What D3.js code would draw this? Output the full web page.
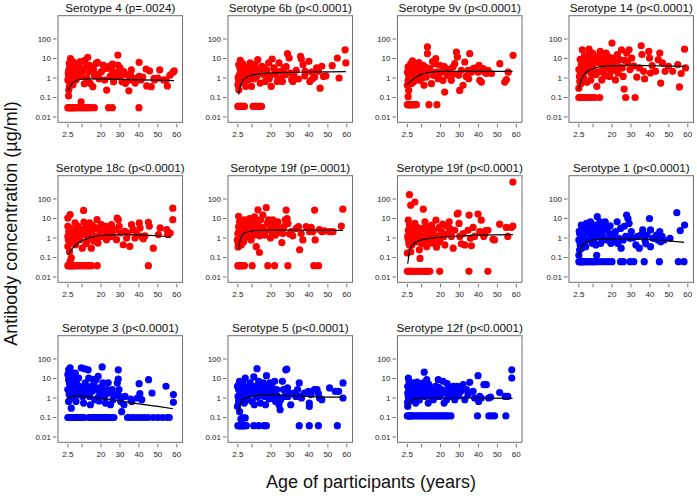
<!DOCTYPE html>
<html><head><meta charset="utf-8">
<script src="https://cdn.jsdelivr.net/npm/d3@7"></script>
<style>body{margin:0;background:#fff}svg{display:block}text{font-family:"Liberation Sans",Arial,sans-serif}</style>
</head><body>
<svg id="c" width="697" height="496"></svg>
<script>
const titles = ["Serotype 4 (p=.0024)","Serotype 6b (p<0.0001)","Serotype 9v (p<0.0001)","Serotype 14 (p<0.0001)",
"Serotype 18c (p<0.0001)","Serotype 19f (p=.0001)","Serotype 19f (p<0.0001)","Serotype 1 (p<0.0001)",
"Serotype 3 (p<0.0001)","Serotype 5 (p<0.0001)","Serotype 12f (p<0.0001)"];
const seriesColor = ["red","red","red","red","red","red","red","blue","blue","blue","blue"];
const xTicks = [2.5,10,20,30,40,50,60];
const xTickLabels = ["2.5","","20","30","40","50","60"];
const yTicks = [0.01,0.1,1,10,100];
const yTickLabels = ["0.01","0.1","1","10","100"];

const p4 = [[2.5,.03],[3,.03],[3.5,.03],[4,.03],[4.5,.03],[5,.03],[5.5,.03],[6,.03],[7,.03],[8,.03],[9,.03],[10,.03],[11,.03],[12,.03],[13,.03],[14,.03],[15,.03],[16.5,.03],[24,.03],[26,.03],[40,.03],[9.5,.06],
[3.9,10],[3.2,5.6],[3.0,2.6],[3.0,1.2],[3.6,0.53],[3.0,0.24],[2.9,0.12],[4.9,3.6],[5.8,1.4],[6.7,0.8],[7.6,2.1],[9.0,6.9],[9.4,3.1],[9.7,1.3],[11.2,0.5],[12.1,3.8],[13.0,11.5],[13.4,2.1],[14.3,0.53],[14.8,2.6],[15.7,0.36],[16.6,1.3],[17.5,5.6],[18.1,6.4],[18.8,1.6],[20.2,2.1],[21.1,4.6],[22.0,0.79],[23.0,0.24],[23.9,3.8],[24.8,1.2],[25.7,2.6],[26.6,0.65],[27.5,1.7],[28.9,15],[28.9,4.6],[29.3,2.1],[30.2,1.2],[31.1,0.65],[32.0,2.1],[32.9,0.53],[34.7,0.22],[35.1,0.79],[35.6,1.4],[37.4,0.96],[40.1,6.4],[40.1,1.2],[41.1,0.79],[43.8,2.9],[44.1,0.39],[45.6,2.3],[46.5,0.36],[48.3,0.79],[51.0,2.6],[54.3,0.79],[55.0,0.39],[56.4,1.4],[57.9,1.9],[58.6,2.3],
[2.5,0.8],[2.7,1.8],[3.3,0.35],[3.5,3.2],[4.2,0.7],[4.5,1.9],[5.2,0.45],[5.5,6.5],[6.2,2.8],[7,0.95],[8,4.2],[8.5,1.5],[10.5,2.4],[11.5,8],[12.5,1],[14,4.5],[16,2.8],[19,0.9],[22.5,3],[26,5.2],[27,1.1],[30,3.4],[33,1.5],[36,2.6],[38,0.55],[42,1.1],[48,0.95],[50,1.0],[53,0.8]];
const p6b = [[2.5,.035],[3,.035],[3.5,.035],[4,.035],[4.5,.035],[5,.035],[5.5,.035],[6,.035],[10.5,.035],[11.2,.035],[12,.035],[12.8,.035],[13.5,.035],[14.3,.035],[15,.035],
[3.0,0.25],[2.5,0.45],[2.9,0.82],[3.4,1.5],[3.8,2.7],[3.0,4.8],[3.8,8],[4.5,2.2],[5.2,1.2],[5.6,0.55],[6.1,3.3],[6.7,0.37],[7.0,1.5],[7.9,0.82],[8.5,4],[9.2,2],[9.7,0.37],[10.6,2.7],[11.5,4.8],[12.5,1.2],[13.0,8.7],[13.9,2.2],[14.3,0.55],[15.2,4],[16.1,1.5],[17.0,0.67],[17.9,2.5],[18.8,5.9],[19.3,1.2],[20.1,0.37],[20.6,9.4],[21.5,3.3],[22.4,1.5],[23.3,0.67],[24.2,5.9],[25.1,2.2],[26.0,0.67],[26.9,3.3],[27.8,1.5],[28.7,17.7],[29.6,10.6],[30.2,1.8],[30.9,0.82],[31.5,0.67],[33.3,2.5],[34.5,0.89],[35.6,12.9],[36.0,9.4],[36.9,4.8],[37.8,1.3],[40.0,7.2],[40.5,0.67],[41.4,2],[41.8,0.89],[44.1,3.3],[45.0,2.2],[45.9,0.3],[46.8,4],[47.7,1.2],[49.0,1.3],[52.3,4.3],[55.0,10.6],[55.9,1],[59.1,28],[59.5,5.9],
[2.7,1.1],[3.2,0.6],[3.6,3.5],[4.1,1.3],[4.8,0.9],[5,5.5],[5.8,2.4],[6.5,1.8],[7.5,2.8],[8,1.1],[9,6],[10,1.6],[11,0.9],[12,3],[14.5,1.9],[16.5,3.2],[19,0.9],[22,2.5],[25,1],[28,3.8],[32,1.4],[38,2.2],[43,1.1]];
const p9v = [[2.5,.043],[3,.043],[3.5,.043],[4,.043],[4.5,.043],[5,.043],[5.5,.043],[6.5,.043],[7.3,.043],[13.9,.043],[18.1,.043],
[2.9,0.11],[3.2,0.23],[2.5,0.42],[2.9,0.76],[3.2,1.37],[3.7,2.5],[2.9,3.7],[4.3,5.4],[4.6,0.51],[5.5,2],[6.0,0.92],[6.4,3.7],[7.3,1.7],[8.1,3],[9.0,0.76],[9.9,1.37],[10.8,4.5],[11.3,0.42],[11.7,2],[12.5,1.12],[13.1,39],[13.1,17.7],[14.3,3],[15.2,0.51],[16.1,1.37],[16.9,5.4],[17.5,9.8],[17.8,2],[18.7,0.92],[19.6,4.5],[20.5,2],[21.3,0.76],[22.2,0.19],[23.1,3],[23.6,1.37],[24.3,2],[25.7,0.76],[26.6,3.7],[27.5,5.4],[28.4,21.6],[28.9,12],[29.6,1.37],[30.1,0.23],[31.0,2.5],[31.9,0.42],[32.8,6.6],[34.5,2.5],[34.9,0.92],[35.4,17.7],[36.3,2],[37.2,3],[39.8,2],[40.3,4.5],[40.7,0.76],[41.6,0.62],[42.5,3],[43.3,2],[44.2,1.7],[45.1,2.5],[46.9,1.7],[51.3,5.4],[53.9,0.62],[54.8,0.82],[55.7,2],[58.3,14.5],
[2.6,2],[3.4,0.6],[3.8,1],[4,3.2],[4.8,1.6],[5.2,7.5],[5.8,0.65],[6.8,2.6],[7.8,1.2],[8.6,6.2],[9.5,2.4],[10.3,1],[12,3.6],[14.8,2.2],[15.8,7],[19,1.5],[21.8,4],[25,2.8],[27,1.6],[33.5,1.2],[38,3.2]];
const p14 = [[2.5,.1],[3,.1],[3.5,.1],[4.3,.1],[5.2,.1],[6.1,.1],[7,.1],[7.9,.1],[9.5,.1],[11,.1],[13.5,.1],[27.2,.1],[32.2,.1],
[2.5,0.3],[3.0,0.67],[3.4,1.5],[2.5,2.7],[3.8,4.8],[4.3,28],[4.8,8.7],[5.2,1],[6.1,2.2],[6.6,5.9],[7.4,16],[7.9,30],[8.4,4],[8.8,0.8],[9.7,19],[10.2,2.7],[10.6,7.2],[11.5,1.5],[12.0,0.37],[12.4,13],[13.3,5.9],[13.8,23],[14.2,2.2],[14.6,0.8],[15.1,10.6],[15.6,4],[16.4,1.3],[16.9,19],[17.4,7.2],[17.8,3.3],[18.7,1.2],[19.2,5.9],[20.0,62],[20.5,10.6],[21.0,2.7],[21.8,0.8],[22.3,4.8],[22.8,16],[23.2,1.8],[24.1,8.7],[25.0,28],[25.4,3.3],[25.9,1.2],[26.4,0.27],[27.7,19],[28.2,5.9],[29.0,28],[29.5,2.7],[30.4,10.6],[33.1,1.1],[34.4,3.3],[35.4,45],[35.8,16],[36.7,2.2],[37.2,0.9],[39.4,23],[39.8,10.6],[40.3,1.8],[41.2,4.3],[43.0,2.2],[44.4,8.7],[45.2,19],[45.7,0.55],[46.6,5.9],[48.0,2.2],[49.8,4],[52.0,2.2],[54.7,4.8],[55.6,0.35],[56.5,1.7],[58.3,30],[58.8,3.3],
[2.8,1.2],[3.2,9],[3.6,0.5],[4,2.4],[4.6,1.1],[5.5,14],[5.8,3.6],[6.8,0.6],[7.2,2.8],[8.1,9.5],[9.2,1.6],[10,4.8],[11,12],[12.8,2],[14,7.5],[15.8,1.8],[18.2,12],[19.6,2.2],[21.5,6.5],[23.8,3.6],[26.8,8],[31.5,4.2]];
const p18c = [[2.5,.038],[3,.038],[3.5,.038],[4,.038],[4.5,.038],[5,.038],[5.5,.038],[6,.038],[7,.038],[8,.038],[9,.038],[10,.038],[11,.038],[12,.038],[13,.038],[14,.038],[15,.038],[18,.038],[45,.038],
[2.5,10.6],[3.7,15.7],[2.5,4],[3.0,2.2],[2.5,1.2],[3.4,0.67],[2.5,0.37],[3.4,0.2],[4.3,0.095],[3.7,0.064],[5.2,2.7],[6.0,1],[6.6,0.45],[6.9,1.8],[7.8,4],[8.7,0.82],[9.6,2.7],[10.1,0.3],[10.8,26],[11.4,1.5],[12.2,4],[12.6,0.67],[13.1,2.2],[14.0,5.9],[14.4,1],[14.9,0.3],[15.8,2.7],[16.7,1.2],[17.5,3.3],[17.9,8.7],[18.4,0.55],[19.3,2.2],[20.2,4.8],[21.1,1.2],[22.0,2.7],[22.5,4],[22.9,0.82],[23.7,1.8],[24.6,3.3],[25.5,4.8],[26.4,1.2],[27.3,2.7],[28.2,0.82],[28.5,10.6],[29.1,8.7],[29.6,4],[30.3,1.8],[31.7,0.45],[32.6,2.2],[33.5,1],[34.4,1.8],[35.2,0.37],[36.1,4.8],[37.0,2.7],[37.9,1],[38.8,1.8],[40.2,5.9],[40.6,3.3],[41.4,1.2],[42.3,0.9],[43.2,1.3],[45.0,6.4],[45.5,4],[47.6,0.3],[50.3,1.5],[51.2,3.3],[54.7,2.7],[55.1,1.5],[56.5,1.8],[57.9,34],[57.9,8.7],
[2.8,0.8],[3.2,1.6],[3.9,3],[4.6,0.55],[5.5,1.3],[6.3,6],[7.2,0.9],[8.2,2],[9,1.3],[11,6.5],[12,0.5],[13.5,1.4],[15.3,4.5],[16.2,0.7],[19,1.1],[21,3],[24,1.1],[26,2.2]];
const p19fa = [[2.5,.038],[3,.038],[3.5,.038],[4,.038],[4.5,.038],[5.2,.038],[6,.038],[10.1,.038],[18.3,.038],[21.9,.038],[28.9,.038],[42.6,.038],[45.1,.038],
[2.2,0.8],[2.5,1.7],[2.9,3.8],[3.4,6.8],[2.9,13],[3.9,1.2],[4.3,0.44],[4.6,2.5],[5.1,4.6],[5.7,0.8],[6.0,8.6],[6.4,1.7],[6.9,3.1],[7.4,5.6],[7.8,1.2],[8.7,10],[9.2,2.5],[9.5,0.8],[9.9,3.8],[10.4,6.8],[11.0,1.4],[11.3,12],[12.2,0.36],[12.7,5.6],[13.1,28],[13.4,2.1],[13.9,0.18],[14.5,8.6],[15.2,3.5],[15.7,15],[16.6,1.4],[17.5,36],[18.0,5.6],[18.7,8.6],[19.2,2.5],[19.7,1],[20.1,4.6],[21.0,8.6],[21.5,3.1],[22.2,1.4],[22.7,4.1],[23.6,6.8],[24.5,1.9],[25.4,3.1],[25.7,0.58],[26.3,1.7],[26.8,3.8],[27.5,8.6],[28.0,27],[28.5,10],[28.9,5.6],[29.8,1.6],[30.7,2.1],[33.3,3.1],[34.5,3.8],[35.1,0.25],[35.9,1.7],[36.8,0.8],[38.6,3.8],[40.3,2.1],[41.2,3.5],[42.1,2.1],[43.0,27],[43.3,0.8],[45.6,2.7],[46.9,2.1],[48.3,2.3],[50.9,2.1],[52.7,2.1],[57.1,4.1],[57.9,30],
[2.6,0.35],[2.7,0.55],[3.2,2.2],[3.6,0.9],[4,3.2],[4.8,1.5],[5.4,0.6],[6.2,2.8],[7.1,1.1],[8.2,4],[10.8,2.2],[12,4.2],[14,1.3],[16,2.8],[20.5,1.9],[23,2.6],[31.5,1.3]];
const p19fb = [[2.5,.0195],[3,.0195],[3.5,.0195],[4,.0195],[4.5,.0195],[5,.0195],[6,.0195],[7,.0195],[8,.0195],[9.5,.0195],[10.5,.0195],[11.5,.0195],[12.5,.0195],[13.5,.0195],[14.4,.0195],[19.6,.0195],[35,.0195],[45,.0195],
[3.6,167],[4.3,48],[6.5,70],[10.9,30],[3.0,8.2],[3.6,4.6],[3.0,2.5],[3.9,1.5],[3.0,0.86],[3.6,0.44],[4.3,0.2],[2.5,0.17],[4.8,3.1],[5.3,0.8],[6.0,1.7],[6.5,5.6],[7.1,0.65],[7.8,1.2],[8.3,2.4],[8.8,0.25],[9.2,0.09],[9.5,0.8],[10.6,3.1],[11.3,0.65],[11.8,6.8],[12.3,1.4],[12.7,0.36],[13.5,3.5],[14.1,0.8],[14.8,1.7],[15.3,4.6],[15.8,0.54],[16.5,2.5],[17.0,0.96],[17.6,8.2],[17.9,0.34],[18.3,1.2],[19.3,3.5],[19.7,0.8],[20.5,2.1],[21.1,5.1],[21.8,1.2],[22.3,0.44],[23.2,4.1],[24.0,1.7],[24.6,6.8],[24.9,3.1],[25.8,1.2],[26.7,0.3],[27.5,2.5],[28.8,17],[29.3,19],[29.8,5.6],[30.2,1.2],[31.0,0.5],[31.9,1.7],[32.8,0.44],[34.5,2.5],[35.1,15],[35.8,0.96],[36.3,0.4],[37.2,3.5],[38.0,1.2],[39.8,17],[40.7,2.1],[41.5,8.2],[42.8,1.2],[43.3,1.6],[43.8,2.4],[45.0,2.5],[47.7,0.85],[48.5,0.8],[51.2,5.1],[54.7,3.5],[55.5,1.2],[57.3,3.5],[58.2,4.1],[58.2,740],
[2.7,1.2],[3.3,0.55],[4,2.2],[4.5,1],[5,0.45],[5.7,2.8],[7.5,3.6],[9,1.6],[10,0.5],[13,1.9],[16,1.2],[19,0.6]];
const p1 = [[2.5,.061],[3,.061],[3.5,.061],[4,.061],[4.5,.061],[5,.061],[6,.061],[7,.061],[8,.061],[9,.061],[10,.061],[11,.061],[12,.061],[14,.061],[16,.061],[18,.061],[20,.061],[24.5,.061],[26,.061],[29.5,.061],[31.5,.061],[37,.061],[45,.061],[55,.061],[58,.061],
[3.8,4.6],[2.9,1.7],[2.5,0.79],[3.2,0.44],[2.9,0.24],[2.5,0.13],[4.3,3.1],[4.7,1.2],[5.0,0.65],[5.6,2.6],[6.1,0.36],[6.5,5.6],[7.4,0.79],[7.9,1.7],[8.3,3.1],[8.6,6.8],[9.2,0.96],[9.7,0.53],[10.1,2.1],[10.4,0.79],[11.0,4.6],[11.5,0.44],[11.9,0.13],[12.2,12.4],[12.8,3.8],[13.3,1.2],[13.7,6.8],[14.0,0.53],[14.6,2.1],[15.5,4.6],[15.8,0.96],[16.4,6.8],[17.3,0.79],[18.2,3.8],[18.7,1.7],[19.4,0.53],[20.0,1.2],[20.9,0.79],[21.8,2.1],[22.7,6.8],[23.0,0.53],[23.6,0.96],[24.5,3.1],[24.8,0.3],[25.9,0.79],[27.2,1.2],[27.7,15],[28.4,10],[29.0,5.6],[29.5,0.96],[30.2,2.1],[32.6,0.44],[33.5,1.2],[34.4,0.3],[35.3,1.4],[36.2,2.6],[37.4,0.79],[38.5,1.4],[39.8,10],[40.3,2.6],[40.3,0.36],[41.6,0.96],[42.5,0.96],[43.4,1.4],[44.3,0.79],[45.2,2.1],[45.7,0.65],[46.4,1.2],[47.5,0.79],[50.6,0.96],[54.2,20],[56.0,2.4],[58.3,4.6],
[2.7,2.2],[3.4,1],[4,0.3],[5.3,1.8],[6.8,2.4],[9,4],[11.3,1.6],[13,2.8],[15,1.3],[17,2.7],[19,4.2],[21,1.5],[26.5,4],[31,1],[37.8,0.5]];
const p3 = [[2.5,.1],[3,.1],[3.5,.1],[4,.1],[5,.1],[5.5,.1],[6.5,.1],[7,.1],[8,.1],[9,.1],[10,.1],[11,.1],[13.5,.1],[14.5,.1],[15.5,.1],[16.5,.1],[17.5,.1],[18.5,.1],[19.5,.1],[20.5,.1],[21.5,.1],[22.5,.1],[23.5,.1],[24.5,.1],[25.5,.1],[26.8,.1],[34,.1],[35,.1],[37,.1],[39,.1],[41,.1],[43,.1],[45,.1],[47.5,.1],[50,.1],[52.5,.1],[55,.1],[56,.1],
[2.9,28],[3.7,35],[2.5,16],[4.3,19],[2.9,8.7],[3.7,4.8],[2.5,2.7],[3.2,1.5],[2.9,0.67],[4.3,0.3],[4.6,2.7],[5.0,10.6],[5.5,1.2],[6.0,5.9],[6.4,19],[6.8,0.67],[7.3,2.7],[7.8,1.5],[8.2,10.6],[8.5,4],[9.6,35],[10.0,2.7],[10.3,1.2],[10.8,0.55],[11.4,31],[11.7,5.9],[12.1,2.7],[13.2,28],[13.5,10.6],[13.9,1.2],[14.4,0.45],[14.9,4],[15.3,2.2],[16.2,4.8],[16.7,0.82],[17.4,8.7],[17.9,2.7],[18.5,13],[18.8,1.2],[19.2,3.3],[19.7,1.8],[20.6,39],[21.0,5.9],[21.5,2.7],[22.0,1.2],[22.4,0.55],[23.3,2.7],[24.2,1.8],[25.0,0.45],[25.9,2.7],[26.3,0.82],[26.8,1.5],[28.6,5.9],[29.1,28],[29.1,9.4],[29.5,2.7],[29.8,1.2],[30.4,0.67],[30.9,0.2],[32.1,0.45],[32.7,1.2],[35.7,0.89],[36.2,0.67],[39.2,1],[40.1,5.4],[40.5,1.7],[41.5,0.82],[45.1,8.7],[46.9,1.8],[54.3,4],[58.2,1.5],[58.2,0.6],
[3.3,6],[4,1],[5.3,3.5],[6.2,1.5],[7,7],[9,1.8],[11,3.8],[12.5,1.6],[15.8,9],[19,0.7],[23.8,6],[27.5,1.4]];
const p5 = [[2.5,.038],[3,.038],[3.5,.038],[4,.038],[4.5,.038],[5,.038],[5.5,.038],[6,.038],[7,.038],[10.9,.038],[13.5,.038],[16.2,.038],[17.6,.038],[34.9,.038],[40.2,.038],[45,.038],[55,.038],
[2.9,2.7],[2.3,4],[3.4,7.2],[3.7,1.5],[2.9,0.67],[2.3,0.37],[3.4,0.2],[4.1,0.084],[5.2,0.095],[6.4,0.095],[4.6,2.7],[5.2,5.9],[5.5,1.2],[5.9,0.55],[6.4,10.6],[7.0,2.2],[7.3,0.82],[8.2,4],[8.7,1.5],[9.4,2.7],[10.0,0.67],[10.5,1.8],[10.9,12],[11.2,0.45],[11.8,4],[12.3,1.1],[12.6,32],[13.0,2.7],[13.5,7.2],[14.1,1.3],[14.4,0.55],[15.3,4],[15.9,2.2],[16.6,1.2],[17.1,0.45],[17.6,14],[18.0,4],[18.3,1.8],[19.4,5.9],[19.8,2.7],[20.1,1],[20.7,3.3],[21.2,1.5],[21.9,7.2],[22.4,0.67],[23.0,2.7],[23.3,1.3],[24.2,0.45],[24.8,0.25],[25.1,0.82],[26.0,7.2],[26.5,2.7],[27.2,1.2],[27.8,28],[28.3,30],[28.7,3.3],[29.0,1.2],[29.6,1.8],[30.4,0.45],[32.2,1.8],[33.1,1.2],[34.0,2.7],[34.9,5.9],[35.4,1.2],[36.1,1],[37.6,1.8],[39.7,2.2],[40.2,0.55],[40.2,0.37],[41.1,1.5],[42.9,2.7],[44.3,2.7],[45.0,1.7],[45.6,1],[46.8,0.82],[50.9,3.3],[53.9,2.2],[55.7,2.2],[58.0,5.9],[58.0,1],
[2.6,1.2],[3.1,5],[3.9,3.3],[4.3,0.8],[4.9,1.6],[6,3.6],[7.6,1.2],[9,6],[11.5,2],[14.7,2.6],[16,6],[19,0.9]];
const p12f = [[2.5,.12],[3,.12],[3.5,.12],[4,.12],[4.5,.12],[5,.12],[6,.12],[7,.12],[8,.12],[9,.12],[10,.12],[11,.12],[12,.12],[13,.12],[14,.12],[15,.12],[16,.12],[17,.12],[18,.12],[19,.12],[20,.12],[21,.12],[22,.12],[23,.12],[24,.12],[25.5,.12],[39.5,.12],[45.5,.12],[47,.12],[48.5,.12],[54.5,.12],
[3.0,10.6],[3.4,7.2],[2.7,4],[3.4,2.7],[2.7,1.8],[3.0,1.2],[3.4,0.67],[2.7,0.37],[3.9,4.8],[4.4,1.8],[4.8,3.3],[5.1,1],[5.7,2.7],[6.2,5.9],[6.5,1.5],[6.9,0.55],[7.4,3.3],[7.9,2.2],[8.3,1.2],[9.2,4.8],[9.7,2.7],[10.4,1.8],[10.9,5.9],[11.4,21],[11.8,1.2],[12.1,3.3],[12.7,8.7],[13.2,2.2],[13.5,0.55],[14.4,3.3],[14.9,1.5],[15.6,2.7],[16.2,0.82],[16.7,1.8],[17.4,4],[17.9,1.2],[18.4,2.2],[18.8,8.7],[19.7,1.2],[20.5,2.7],[21.4,7.2],[21.9,0.55],[22.6,1.8],[23.2,0.82],[24.0,3.3],[24.9,1.2],[25.8,2.2],[26.7,4],[27.5,0.82],[27.9,2.2],[28.9,4],[29.6,1.3],[30.7,2.2],[31.9,4.8],[32.8,0.82],[33.7,2.7],[34.5,1.5],[35.4,6.4],[37.2,2.2],[38.0,1],[39.8,14],[40.1,0.67],[40.7,1.2],[41.5,1],[42.9,4.8],[44.2,4.8],[45.4,1],[46.4,1.1],[51.2,1.9],[54.1,1.2],[55.5,1.2],[57.6,28],[57.6,10.6],
[2.6,0.6],[3.2,0.9],[3.7,1.5],[4.2,6],[5.4,2],[6,0.9],[7.7,6.5],[8.8,0.8],[10,3],[11,1.4],[13.8,5],[15.2,1],[19,3.5],[23.5,5.5],[26,1.5]];

const c4 = [[2.5,0.22],[3.5,0.36],[5,0.55],[7,0.74],[10,0.86],[14,0.9],[20,0.9],[30,0.85],[40,0.8],[50,0.77],[58.5,0.74]];
const c6b = [[2.9,0.14],[3.8,0.37],[5.2,0.76],[8.8,1.3],[16,1.7],[28.7,1.95],[45,2.05],[59.5,2.1]];
const c9v = [[2.5,0.46],[4,0.65],[6,0.95],[9,1.4],[13,1.85],[18,2.1],[25,2.2],[40,2.2],[58,2.2]];
const c14 = [[2.5,0.25],[3.8,0.8],[6,1.8],[10.6,3.2],[17.8,4.2],[30,4.4],[45,4.2],[59,3.9]];
const c18c = [[2.5,0.14],[5,0.3],[8,0.55],[12,0.9],[18,1.25],[25,1.45],[32,1.55],[40,1.45],[50,1.3],[57,1.1]];
const c19fa = [[2.9,0.27],[3.6,0.7],[4.6,1.3],[6,1.8],[9,2.2],[15,2.5],[30,2.55],[58,2.45]];
const c19fb = [[2.7,0.048],[3.6,0.2],[4.8,0.39],[7.4,0.65],[14.4,0.96],[31.9,1.3],[58.2,1.5]];
const c1 = [[2.5,0.11],[3.5,0.28],[5,0.5],[8,0.72],[13,0.85],[25,0.92],[35,0.88],[45,0.78],[58,0.6]];
const c3 = [[2.5,0.95],[5,1.2],[8,1.3],[12,1.2],[20,0.95],[30,0.7],[40,0.5],[50,0.37],[58,0.28]];
const c5 = [[2.9,0.17],[3.5,0.4],[5,0.8],[8,1.1],[13,1.35],[20,1.4],[30,1.3],[45,1.15],[58,1.1]];
const c12f = [[2.7,0.3],[3.5,0.6],[5,0.82],[8,0.95],[15,1.0],[30,1.0],[45,0.98],[58,0.95]];

const points = [p4,p6b,p9v,p14,p18c,p19fa,p19fb,p1,p3,p5,p12f];
const curves = [c4,c6b,c9v,c14,c18c,c19fa,c19fb,c1,c3,c5,c12f];

const svg = d3.select("#c");
const colLeft = [58, 228, 397.5, 569];
const rowTop = [15.7, 175.7, 335.7];
const W = 124.5, H = 106.6;
const boxColor = "#6e6e6e", textColor = "#222";

titles.forEach((t,i)=>{
  const r = Math.floor(i/4), c = i%4;
  const g = svg.append("g").attr("transform",`translate(${colLeft[c]},${rowTop[r]})`);
  const x = d3.scaleLinear().domain([-2.7,63]).range([0,W]);
  const y = d3.scaleLog().domain([Math.pow(10,-2.272),Math.pow(10,3.195)]).range([H,0]);
  const col = seriesColor[i]==="red" ? "#ff0000" : "#0000ff";
  g.selectAll("circle").data(points[i]).join("circle")
    .attr("cx",d=>x(d[0])).attr("cy",d=>y(d[1])).attr("r",3.6).attr("fill",col);
  g.append("path").datum(curves[i])
    .attr("d",d3.line().x(d=>x(d[0])).y(d=>y(d[1])).curve(d3.curveMonotoneX))
    .attr("fill","none").attr("stroke","#000").attr("stroke-width",1.2);
  g.append("rect").attr("x",0).attr("y",0).attr("width",W).attr("height",H)
    .attr("fill","none").attr("stroke",boxColor).attr("stroke-width",1);
  // x ticks
  xTicks.forEach((v,k)=>{
    g.append("line").attr("x1",x(v)).attr("x2",x(v)).attr("y1",H+1.5).attr("y2",H+5)
      .attr("stroke",boxColor).attr("stroke-width",1);
    if (xTickLabels[k]) g.append("text").attr("x",x(v)).attr("y",H+15)
      .attr("text-anchor","middle").attr("font-size",8).attr("fill",textColor).text(xTickLabels[k]);
  });
  yTicks.forEach((v,k)=>{
    g.append("line").attr("x1",-1.5).attr("x2",-5).attr("y1",y(v)).attr("y2",y(v))
      .attr("stroke",boxColor).attr("stroke-width",1);
    g.append("text").attr("x",-7).attr("y",y(v)+3)
      .attr("text-anchor","end").attr("font-size",8).attr("fill",textColor).text(yTickLabels[k]);
  });
  g.append("text").attr("x",W/2).attr("y",-3.5).attr("text-anchor","middle")
    .attr("font-size",11.7).attr("fill","#111").text(t);
});

svg.append("text").attr("transform","translate(16.5,223.5) rotate(-90)")
  .attr("text-anchor","middle").attr("font-size",18).attr("fill","#111")
  .text("Antibody concentration (µg/ml)");
svg.append("text").attr("x",371).attr("y",488).attr("text-anchor","middle")
  .attr("font-size",18).attr("fill","#111").text("Age of participants (years)");
</script>
</body></html>
